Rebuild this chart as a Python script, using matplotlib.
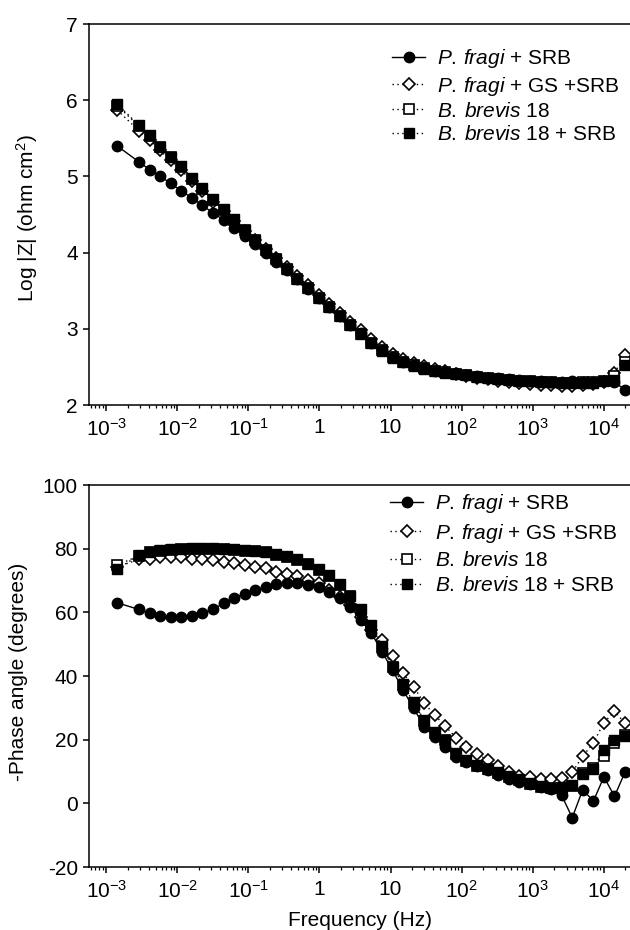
import matplotlib
matplotlib.use("Agg")
import matplotlib.pyplot as plt
from matplotlib.ticker import FixedLocator, FixedFormatter, LogLocator, NullFormatter

plt.rcParams['font.family'] = ['Liberation Sans', 'DejaVu Sans']
plt.rcParams['mathtext.fontset'] = 'custom'
plt.rcParams['mathtext.rm'] = 'Liberation Sans'
plt.rcParams['mathtext.it'] = 'Liberation Sans:italic'
plt.rcParams['axes.unicode_minus'] = False

# frequency (Hz)
freq = [0.00142, 0.00288, 0.00406, 0.00572, 0.00805, 0.01135, 0.0160, 0.0225,
        0.0317, 0.0447, 0.0628, 0.0885, 0.125, 0.175, 0.247, 0.348, 0.490,
        0.690, 0.973, 1.37, 1.93, 2.72, 3.83, 5.39, 7.59, 10.7, 15.1, 21.2,
        29.9, 42.0, 59.2, 83.4, 117, 165, 233, 328, 462, 650, 916, 1290,
        1816, 2560, 3605, 5075, 7150, 10070, 14170, 19950]

# Log |Z|
logz_pf_srb = [5.40, 5.19, 5.09, 5.00, 4.91, 4.81, 4.72, 4.62, 4.52, 4.43, 4.32, 4.22,
               4.11, 4.00, 3.88, 3.77, 3.65, 3.52, 3.40, 3.29, 3.17, 3.05, 2.94, 2.82,
               2.72, 2.63, 2.57, 2.52, 2.48, 2.45, 2.43, 2.42, 2.40, 2.38, 2.36, 2.35,
               2.34, 2.33, 2.32, 2.31, 2.30, 2.30, 2.31, 2.30, 2.30, 2.31, 2.30, 2.20]
logz_pf_gs_srb = [5.87, 5.60, 5.48, 5.34, 5.21, 5.08, 4.94, 4.81, 4.67, 4.55, 4.42, 4.29,
                  4.17, 4.05, 3.93, 3.81, 3.69, 3.57, 3.45, 3.33, 3.21, 3.09, 2.98, 2.86,
                  2.76, 2.67, 2.60, 2.55, 2.51, 2.47, 2.44, 2.41, 2.38, 2.36, 2.34, 2.32,
                  2.30, 2.29, 2.27, 2.26, 2.26, 2.25, 2.25, 2.26, 2.27, 2.30, 2.42, 2.66]
logz_bb18 = [5.93, 5.66, 5.53, 5.38, 5.25, 5.12, 4.97, 4.84, 4.69, 4.56, 4.43, 4.30,
             4.17, 4.04, 3.91, 3.78, 3.65, 3.53, 3.41, 3.29, 3.17, 3.05, 2.93, 2.82,
             2.72, 2.63, 2.57, 2.52, 2.48, 2.45, 2.43, 2.41, 2.39, 2.37, 2.36, 2.34,
             2.33, 2.32, 2.31, 2.30, 2.30, 2.29, 2.29, 2.30, 2.30, 2.31, 2.38, 2.57]
logz_bb18_srb = [5.95, 5.67, 5.54, 5.39, 5.26, 5.13, 4.98, 4.85, 4.70, 4.57, 4.44, 4.30,
                 4.17, 4.04, 3.91, 3.78, 3.65, 3.53, 3.41, 3.29, 3.17, 3.05, 2.93, 2.81,
                 2.71, 2.62, 2.56, 2.51, 2.47, 2.44, 2.42, 2.41, 2.39, 2.37, 2.36, 2.34,
                 2.33, 2.32, 2.31, 2.30, 2.30, 2.29, 2.29, 2.29, 2.29, 2.31, 2.33, 2.52]

# -phase angle (degrees)
phase_pf_srb = [63.0, 60.9, 59.7, 58.8, 58.4, 58.4, 58.9, 59.8, 61.0, 62.8, 64.5, 65.9,
                67.0, 68.0, 68.8, 69.1, 69.1, 68.7, 68.0, 66.4, 64.4, 61.7, 57.5, 53.4,
                47.6, 41.8, 35.5, 29.8, 24.0, 20.9, 17.7, 14.6, 13.0, 11.6, 10.6, 8.8,
                7.8, 6.7, 6.0, 5.1, 4.6, 2.5, -4.5, 4.3, 0.7, 8.3, 2.2, 9.8]
phase_pf_gs_srb = [74.3, 76.6, 76.9, 77.3, 77.3, 77.3, 76.9, 76.6, 76.4, 75.9, 75.4, 74.8,
                   74.3, 73.8, 72.6, 72.0, 71.5, 70.2, 69.1, 67.0, 64.7, 62.3, 58.6, 54.4,
                   51.3, 46.2, 40.8, 36.6, 31.4, 27.7, 24.2, 20.6, 17.7, 15.6, 13.5, 11.6,
                   9.8, 8.5, 8.3, 7.8, 7.5, 8.1, 9.8, 14.8, 19.0, 25.3, 29.0, 25.1]
phase_bb18 = [74.8, 77.8, 78.8, 79.4, 79.6, 79.8, 79.9, 80.0, 80.0, 79.8, 79.7, 79.4,
              79.2, 78.8, 78.0, 77.5, 76.4, 75.1, 73.4, 71.5, 68.6, 65.0, 60.7, 55.8,
              49.2, 42.7, 37.2, 31.5, 25.9, 22.2, 19.8, 15.6, 13.3, 11.7, 10.7, 9.6,
              8.4, 7.3, 6.2, 5.1, 4.7, 4.9, 5.5, 9.5, 11.0, 14.8, 19.0, 21.5]
phase_bb18_srb = [73.5, 78.0, 79.0, 79.6, 79.8, 80.0, 80.1, 80.2, 80.2, 80.0, 79.9, 79.6,
                  79.4, 79.0, 78.2, 77.7, 76.6, 75.3, 73.6, 71.7, 68.8, 65.2, 60.9, 56.0,
                  49.4, 42.9, 37.4, 31.7, 26.1, 22.4, 20.0, 15.8, 13.5, 11.9, 10.9, 9.8,
                  8.6, 7.5, 6.4, 5.3, 4.9, 5.1, 5.7, 9.3, 10.9, 16.9, 20.0, 21.1]

labels = [r'$\mathit{P.\,fragi}$ + SRB',
          r'$\mathit{P.\,fragi}$ + GS +SRB',
          r'$\mathit{B.\:brevis}$ 18',
          r'$\mathit{B.\:brevis}$ 18 + SRB']

major_ticks = [1e-3, 1e-2, 1e-1, 1, 10, 1e2, 1e3, 1e4]
major_labels = [r'$10^{-3}$', r'$10^{-2}$', r'$10^{-1}$', '1', '10',
                r'$10^{2}$', r'$10^{3}$', r'$10^{4}$']

FS = 15
dots = (0, (1, 2.5))


def draw_series(ax, series):
    s1, s2, s3, s4 = series
    ax.plot(freq, s2, linestyle=dots, color='k', lw=1, marker='D', ms=6,
            mfc='white', mec='k', mew=1.2, label=labels[1], zorder=2)
    ax.plot(freq, s3, linestyle=dots, color='k', lw=1, marker='s', ms=6.5,
            mfc='white', mec='k', mew=1.2, label=labels[2], zorder=3)
    ax.plot(freq, s1, linestyle='-', color='k', lw=1, marker='o', ms=7.5,
            mfc='k', mec='k', label=labels[0], zorder=4)
    ax.plot(freq, s4, linestyle=dots, color='k', lw=1, marker='s', ms=7,
            mfc='k', mec='k', label=labels[3], zorder=5)
    h, l = ax.get_legend_handles_labels()
    order = [2, 0, 1, 3]
    return [h[i] for i in order], [l[i] for i in order]


def style_axis(ax):
    ax.set_xscale('log')
    ax.set_xlim(10 ** -3.244, 10 ** 4.37)
    ax.xaxis.set_major_locator(FixedLocator(major_ticks))
    ax.xaxis.set_major_formatter(FixedFormatter(major_labels))
    ax.xaxis.set_minor_locator(LogLocator(base=10, subs=range(2, 10), numticks=20))
    ax.xaxis.set_minor_formatter(NullFormatter())
    ax.spines['right'].set_visible(False)
    for s in ['left', 'top', 'bottom']:
        ax.spines[s].set_linewidth(1.1)
    ax.tick_params(which='major', direction='out', length=4.5, width=1.1,
                   labelsize=FS, top=False, right=False)
    ax.tick_params(which='minor', direction='out', length=2.5, width=0.9,
                   top=False, right=False)
    ax.tick_params(axis='x', which='major', pad=5)


fig = plt.figure(figsize=(6.3, 9.3), dpi=100)
W, H = 630.0, 930.0

ax1 = fig.add_axes([89 / W, 1 - 405 / H, (W - 89) / W, (405 - 24) / H])
h, l = draw_series(ax1, [logz_pf_srb, logz_pf_gs_srb, logz_bb18, logz_bb18_srb])
style_axis(ax1)
ax1.set_ylim(2, 7)
ax1.set_yticks([2, 3, 4, 5, 6, 7])
ax1.set_ylabel(r'Log |Z| (ohm cm$^{2}$)', fontsize=FS)
ax1.yaxis.set_label_coords(-0.091, 0.49)
ax1.legend(h, l, loc='upper left', bbox_to_anchor=(0.541, 0.966), frameon=False,
           fontsize=FS, borderpad=0, handlelength=1.6, handletextpad=0.55,
           labelspacing=0.2)

ax2 = fig.add_axes([89 / W, 1 - 867 / H, (W - 89) / W, (867 - 485) / H])
h, l = draw_series(ax2, [phase_pf_srb, phase_pf_gs_srb, phase_bb18, phase_bb18_srb])
style_axis(ax2)
ax2.set_ylim(-20, 100)
ax2.set_yticks([-20, 0, 20, 40, 60, 80, 100])
ax2.set_ylabel('-Phase angle (degrees)', fontsize=FS)
ax2.yaxis.set_label_coords(-0.113, 0.51)
ax2.set_xlabel('Frequency (Hz)', fontsize=FS)
ax2.xaxis.set_label_coords(0.5, -0.115)
ax2.legend(h, l, loc='upper left', bbox_to_anchor=(0.537, 1.008), frameon=False,
           fontsize=FS, borderpad=0, handlelength=1.6, handletextpad=0.55,
           labelspacing=0.3)

fig.savefig('out.png', dpi=100)
